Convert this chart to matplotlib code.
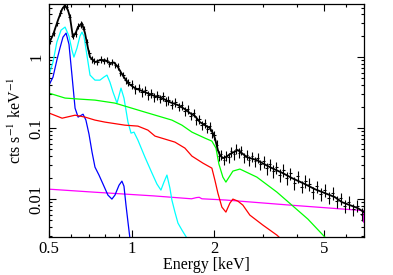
import matplotlib
matplotlib.use("Agg")
import matplotlib.pyplot as plt
from matplotlib.ticker import FixedLocator, NullFormatter, LogLocator

plt.rcParams['font.family'] = ['Liberation Serif', 'DejaVu Serif']
plt.rcParams['mathtext.fontset'] = 'stix'

# ---------------- model components ----------------
model_E = [0.500, 0.517, 0.539, 0.558, 0.572, 0.586, 0.596, 0.611, 0.627, 0.637, 0.659, 0.676,
           0.693, 0.705, 0.735, 0.766, 0.799, 0.833, 0.862, 0.891, 0.921, 0.969, 1.027, 1.117,
           1.215, 1.288, 1.377, 1.473, 1.561, 1.628, 1.698, 1.770, 1.846, 1.925, 1.974, 2.007,
           2.058, 2.093, 2.146, 2.201, 2.276, 2.353, 2.433, 2.516, 2.624, 2.853, 3.182, 3.548,
           3.824, 4.266, 4.638, 5.042, 5.483, 5.814, 6.215, 6.646, 6.99]
model_v = [1.57, 2.05, 3.32, 4.74, 5.40, 4.59, 3.66, 1.91, 2.25, 2.65, 3.01, 2.18,
           1.34, 1.00, 0.850, 0.907, 0.907, 0.823, 0.84, 0.723, 0.576, 0.430, 0.366, 0.321,
           0.282, 0.265, 0.232, 0.211, 0.185, 0.163, 0.148, 0.1215, 0.110, 0.100, 0.0850, 0.0723,
           0.0490, 0.0417, 0.0378, 0.0390, 0.0430, 0.0459, 0.0490, 0.0444, 0.0390, 0.0354, 0.0282, 0.0232,
           0.0198, 0.0163, 0.0138, 0.01215, 0.01067, 0.00907, 0.00823, 0.00747, 0.00656]

green_E = [0.5, 0.572, 0.648, 0.735, 0.869, 1.117, 1.400, 1.523, 1.656, 1.846, 1.957, 2.025,
           2.076, 2.146, 2.201, 2.334, 2.475, 2.853, 3.374, 3.824, 4.374, 5.042]
green_v = [0.311, 0.265, 0.256, 0.248, 0.225, 0.168, 0.1297, 0.110, 0.0878, 0.0723, 0.0656, 0.0523,
           0.0311, 0.0204, 0.01736, 0.0248, 0.0265, 0.0204, 0.01255, 0.00823, 0.00523, 0.00292]

red_E = [0.5, 0.558, 0.622, 0.676, 0.735, 0.799, 0.945, 1.053, 1.145, 1.215, 1.436, 1.561, 1.656,
         1.816, 1.957, 2.007, 2.058, 2.128, 2.201, 2.276, 2.334, 2.433, 2.537, 2.690, 3.001, 3.374, 3.459]
red_v = [0.163, 0.138, 0.152, 0.143, 0.1297, 0.1215, 0.110, 0.1067, 0.0937, 0.0772, 0.0635, 0.0523, 0.0403,
         0.0321, 0.0273, 0.0185, 0.01215, 0.00771, 0.00656, 0.00879, 0.0100, 0.00937, 0.00823, 0.00595, 0.00430, 0.00311, 0.00284]

cyan_E = [0.5, 0.517, 0.534, 0.553, 0.572, 0.591, 0.606, 0.616, 0.632, 0.648, 0.659, 0.670, 0.687,
          0.705, 0.735, 0.766, 0.792, 0.8125, 0.833, 0.855, 0.884, 0.914, 0.937, 0.969, 0.994, 1.019,
          1.053, 1.117, 1.185, 1.235, 1.277, 1.310, 1.343, 1.377, 1.400, 1.436, 1.473, 1.523, 1.588]
cyan_v = [0.558, 0.850, 1.627, 2.40, 2.65, 1.976, 1.255, 1.0, 1.34, 1.976, 2.25, 1.976, 1.067,
          0.558, 0.474, 0.474, 0.523, 0.558, 0.444, 0.321, 0.225, 0.366, 0.265, 0.1215, 0.0850, 0.0878,
          0.0678, 0.0390, 0.0232, 0.0163, 0.01339, 0.01736, 0.0218, 0.01428, 0.00968, 0.00656, 0.00459, 0.00366, 0.00282]

blue_E = [0.500, 0.517, 0.534, 0.548, 0.562, 0.577, 0.591, 0.606, 0.622, 0.638, 0.665, 0.681, 0.699,
          0.717, 0.735, 0.760, 0.786, 0.819, 0.847, 0.869, 0.899, 0.921, 0.937, 0.953, 0.969, 0.985]
blue_v = [0.403, 0.523, 0.907, 1.34, 1.91, 2.18, 1.52, 0.558, 0.191, 0.143, 0.157, 0.130, 0.0823,
          0.0459, 0.0282, 0.0218, 0.0163, 0.0114, 0.0100, 0.0114, 0.0157, 0.0179, 0.0152, 0.0082, 0.00474, 0.0028]

magenta_E = [0.5, 0.735, 1.2, 1.65, 1.72, 1.76, 1.80, 2.2, 3.76, 6.6, 6.97, 6.98]
magenta_v = [0.0138, 0.0125, 0.0111, 0.0101, 0.0105, 0.0106, 0.0101, 0.0097, 0.00823, 0.0070, 0.00685, 0.00474]

# ---------------- observed data (four energy ranges) ----------------
data1_E = [0.505, 0.52, 0.535, 0.55, 0.565, 0.58, 0.595, 0.61, 0.625, 0.64, 0.655, 0.67, 0.685, 0.70,
           0.715, 0.73, 0.75, 0.77, 0.79, 0.81, 0.83, 0.85, 0.87, 0.89, 0.91, 0.93, 0.95, 0.97]
data1_v = [1.68, 2.18, 3.05, 4.2, 5.05, 5.1, 3.7, 2.0, 2.15, 2.75, 2.9, 2.5, 1.65, 1.15,
           0.93, 0.88, 0.86, 0.93, 0.89, 0.91, 0.81, 0.85, 0.78, 0.74, 0.60, 0.56, 0.47, 0.44]
data2_E = [1.00, 1.03, 1.06, 1.09, 1.12, 1.15, 1.18, 1.21, 1.24, 1.27, 1.30, 1.33, 1.36, 1.40, 1.44,
           1.48, 1.52, 1.56, 1.60, 1.64, 1.68, 1.72, 1.76, 1.80, 1.84, 1.88, 1.92, 1.96, 2.00]
data2_v = [0.42, 0.35, 0.37, 0.32, 0.34, 0.29, 0.31, 0.27, 0.29, 0.26, 0.28, 0.24, 0.25, 0.215, 0.23,
           0.20, 0.21, 0.175, 0.185, 0.15, 0.165, 0.13, 0.135, 0.11, 0.118, 0.098, 0.106, 0.085, 0.079]
data3_E = [2.04, 2.08, 2.12, 2.16, 2.20, 2.25, 2.30, 2.35, 2.40, 2.45, 2.50, 2.56, 2.62, 2.68, 2.74,
           2.80, 2.87, 2.94]
data3_v = [0.058, 0.041, 0.043, 0.036, 0.041, 0.039, 0.047, 0.043, 0.051, 0.045, 0.049, 0.039, 0.042,
           0.035, 0.040, 0.034, 0.038, 0.031]
data4_E = [3.02, 3.10, 3.18, 3.27, 3.36, 3.46, 3.56, 3.67, 3.78, 3.90, 4.02, 4.15, 4.28, 4.42, 4.56,
           4.71, 4.87, 5.03, 5.20, 5.38, 5.56, 5.76, 5.96, 6.17, 6.39, 6.62, 6.86]
data4_v = [0.034, 0.027, 0.031, 0.025, 0.028, 0.022, 0.026, 0.020, 0.023, 0.017, 0.021, 0.015, 0.018,
           0.0165, 0.0125, 0.0152, 0.0118, 0.0135, 0.0105, 0.0122, 0.0093, 0.0102, 0.0080, 0.0091,
           0.0072, 0.0081, 0.0062]
data_relerr = [0.10, 0.14, 0.16, 0.20]
data_relbin = [0.012, 0.013, 0.009, 0.013]

x_ticks = [0.5, 1, 2, 5]
x_ticklabels = ["0.5", "1", "2", "5"]
y_ticks = [0.01, 0.1, 1]
y_ticklabels = ["0.01", "0.1", "1"]

fig = plt.figure(figsize=(3.93, 2.75), dpi=100)
ax = fig.add_axes([0.1247, 0.138, 0.8015, 0.847])

lw = 0.9
ax.plot(magenta_E, magenta_v, color="#ff00ff", lw=lw)
ax.plot(blue_E, blue_v, color="#0000ff", lw=lw)
ax.plot(cyan_E, cyan_v, color="#00ffff", lw=lw)
ax.plot(red_E, red_v, color="#ff0000", lw=lw)
ax.plot(green_E, green_v, color="#00ff00", lw=lw)

segments = [(data1_E, data1_v), (data2_E, data2_v), (data3_E, data3_v), (data4_E, data4_v)]
for (E, v), re, rb in zip(segments, data_relerr, data_relbin):
    yerr = [val * re for val in v]
    xerr = [e * rb for e in E]
    ax.errorbar(E, v, yerr=yerr, xerr=xerr, fmt="none", ecolor="black", elinewidth=0.8, capsize=0)
ax.plot(model_E, model_v, color="black", lw=1.3)

ax.set_xscale("log")
ax.set_yscale("log")
ax.set_xlim(0.5, 7.0)
ax.set_ylim(0.00292, 5.58)

ax.xaxis.set_major_locator(FixedLocator(x_ticks))
ax.set_xticklabels(x_ticklabels)
ax.xaxis.set_minor_locator(FixedLocator([0.6, 0.7, 0.8, 0.9, 3, 4, 6, 7]))
ax.xaxis.set_minor_formatter(NullFormatter())
ax.yaxis.set_major_locator(FixedLocator(y_ticks))
ax.set_yticklabels(y_ticklabels, rotation=90, va="center")
ax.yaxis.set_minor_locator(LogLocator(base=10, subs=range(2, 10)))
ax.yaxis.set_minor_formatter(NullFormatter())

ax.tick_params(which="both", direction="in", top=True, right=True, labelsize=12, width=0.8)
ax.tick_params(which="major", length=5, pad=3)
ax.tick_params(which="minor", length=2.5)
for s in ax.spines.values():
    s.set_linewidth(0.9)

ax.set_xlabel("Energy [keV]", fontsize=11.5, labelpad=0)
ax.set_ylabel("cts s$^{-1}$ keV$^{-1}$", fontsize=11.5, labelpad=3)

fig.savefig("out.png", dpi=100)
